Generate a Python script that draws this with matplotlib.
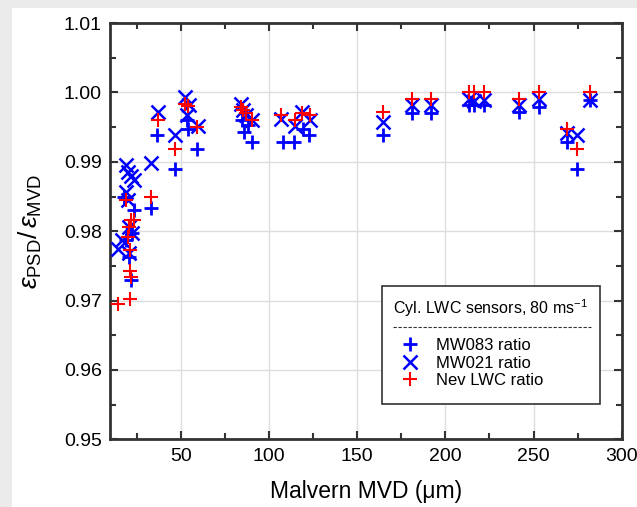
import numpy as np
import matplotlib
matplotlib.use("Agg")
import matplotlib.pyplot as plt
from matplotlib.patches import Rectangle
from matplotlib.lines import Line2D
from matplotlib.ticker import MultipleLocator, FormatStrFormatter

plt.rcParams["font.family"] = ["Liberation Sans", "DejaVu Sans"]
plt.rcParams["mathtext.fontset"] = "custom"
plt.rcParams["mathtext.rm"] = "Liberation Sans"
plt.rcParams["mathtext.it"] = "Liberation Sans:italic"

# MW083 ratio (blue +)
mw083_x = [21.6, 20.7, 23.4, 22.3, 18.8, 17.7, 33.1, 36.8, 46.5, 59.2,
           53.5, 53.9, 84.7, 85.8, 90.4, 88.1, 107.8, 114.0, 122.8, 119.3,
           164.4, 181.0, 191.6, 213.4, 216.4, 222.1, 241.8, 253.3, 268.8,
           274.4, 282.2]
mw083_y = [0.9730, 0.9763, 0.9830, 0.9797, 0.9787, 0.9850, 0.9833, 0.9939,
           0.9890, 0.9918, 0.9960, 0.9948, 0.9960, 0.9943, 0.9929, 0.9953,
           0.9929, 0.9929, 0.9939, 0.9948, 0.9939, 0.9970, 0.9970, 0.9982,
           0.9982, 0.9982, 0.9972, 0.9979, 0.9929, 0.9890, 0.9989]

# MW021 ratio (blue x)
mw021_x = [14.2, 16.5, 18.8, 20.3, 21.6, 23.4, 18.8, 20.0, 20.7, 22.3,
           20.7, 33.1, 37.3, 46.5, 52.3, 54.6, 53.5, 59.9, 84.0, 85.3,
           87.0, 90.4, 107.1, 114.7, 118.6, 123.2, 164.4, 181.0, 191.6,
           213.4, 216.4, 222.1, 241.8, 253.3, 268.8, 274.4, 282.2]
mw021_y = [0.9775, 0.9787, 0.9895, 0.9886, 0.9880, 0.9874, 0.9857, 0.9845,
           0.9806, 0.9797, 0.9768, 0.9898, 0.9972, 0.9939, 0.9994, 0.9982,
           0.9967, 0.9951, 0.9984, 0.9975, 0.9967, 0.9960, 0.9961, 0.9951,
           0.9972, 0.9960, 0.9958, 0.9982, 0.9982, 0.9991, 0.9988, 0.9989,
           0.9982, 0.9991, 0.9941, 0.9939, 0.9989]

# Nev LWC ratio (red +)
nev_x = [14.2, 21.1, 21.1, 21.6, 21.1, 19.9, 20.5, 21.6, 23.4, 18.8,
         33.1, 37.3, 46.5, 52.3, 53.9, 59.2, 84.0, 85.3, 87.0, 90.4,
         107.1, 114.7, 118.6, 123.2, 164.4, 181.0, 191.6, 213.4, 216.4,
         222.1, 241.8, 253.3, 268.8, 274.4, 282.2]
nev_y = [0.9695, 0.9702, 0.9742, 0.9734, 0.9773, 0.9792, 0.9806, 0.9816,
         0.9816, 0.9845, 0.9849, 0.9960, 0.9919, 0.9984, 0.9980, 0.9950,
         0.9979, 0.9974, 0.9970, 0.9960, 0.9967, 0.9960, 0.9970, 0.9967,
         0.9972, 0.9990, 0.9990, 1.0000, 1.0000, 1.0000, 0.9990, 1.0000,
         0.9948, 0.9919, 1.0000]

fig = plt.figure(figsize=(6.37, 5.07), dpi=100)
fig.patch.set_facecolor("#ebebeb")
fig.patches.append(Rectangle((12 / 637, 0), 1, 1 - 8 / 507, transform=fig.transFigure,
                             facecolor="white", edgecolor="none", zorder=-10))

ax = fig.add_axes([0.173, 0.1335, 0.803, 0.821])
ax.set_facecolor("white")

ax.plot(mw083_x, mw083_y, linestyle="none", marker="+", ms=10.5, mew=2,
        color="#0000ff", label="MW083 ratio", zorder=3)
ax.plot(mw021_x, mw021_y, linestyle="none", marker="x", ms=10, mew=1.8,
        color="#0000ff", label="MW021 ratio", zorder=3)
ax.plot(nev_x, nev_y, linestyle="none", marker="+", ms=9.5, mew=1.5,
        color="#ff0000", label="Nev LWC ratio", zorder=4)

ax.set_xlim(10, 300)
ax.set_ylim(0.95, 1.01)
ax.xaxis.set_major_locator(MultipleLocator(50))
ax.xaxis.set_minor_locator(MultipleLocator(25))
ax.yaxis.set_major_locator(MultipleLocator(0.01))
ax.yaxis.set_minor_locator(MultipleLocator(0.005))
ax.yaxis.set_major_formatter(FormatStrFormatter("%.2f"))

ax.grid(True, which="major", color="#dddddd", linewidth=1, zorder=0)
ax.set_axisbelow(True)
ax.tick_params(which="both", direction="in", top=True, right=True,
               colors="#333333", labelcolor="black", labelsize=14, width=1.5)
ax.tick_params(which="major", length=6, pad=6)
ax.tick_params(which="minor", length=4)
for s in ax.spines.values():
    s.set_linewidth(2)
    s.set_color("#333333")

ax.set_xlabel("Malvern MVD (\u03bcm)", fontsize=16.5, labelpad=11)
ax.set_ylabel(r"$\varepsilon_{\mathrm{PSD}}/\,\varepsilon_{\mathrm{MVD}}$", fontsize=19, labelpad=14)

# legend box: frame, title, dashed separator, entries
ax.add_patch(Rectangle((0.532, 0.085), 0.425, 0.283, transform=ax.transAxes,
                       facecolor="white", edgecolor="#333333", linewidth=1.2, zorder=5))
ax.text(0.552, 0.316, "Cyl. LWC sensors, 80 ms$^{-1}$", transform=ax.transAxes,
        fontsize=11.5, va="center", ha="left", zorder=6)
ax.add_line(Line2D([0.552, 0.939], [0.270, 0.270], transform=ax.transAxes,
                   color="#333333", linewidth=0.8, linestyle=(0, (3, 1.5)), zorder=6))
leg = ax.legend(loc="upper left", bbox_to_anchor=(0.566, 0.243), frameon=False,
                fontsize=12, handlelength=1.2, handletextpad=1.0,
                labelspacing=0.15, borderpad=0, borderaxespad=0)
leg.set_zorder(7)

fig.savefig("out.png", dpi=100, facecolor=fig.get_facecolor())
